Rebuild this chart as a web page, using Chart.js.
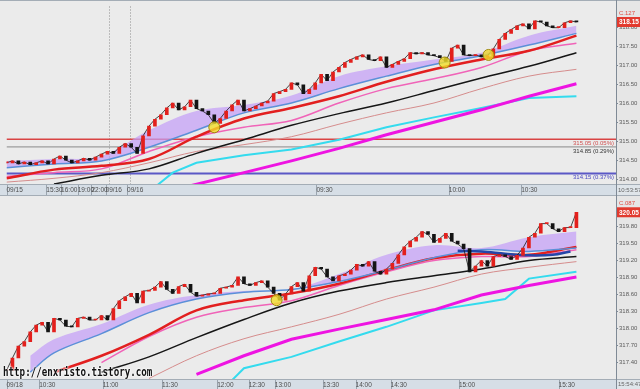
<!DOCTYPE html>
<html>
<head>
<meta charset="utf-8">
<script src="https://cdn.jsdelivr.net/npm/chart.js@4.4.1/dist/chart.umd.min.js"></script>
<style>
html, body { margin: 0; padding: 0; background: #ebebeb; }
#wrap { position: relative; width: 640px; height: 389px; overflow: hidden; }
canvas { display: block; }
#url { position: absolute; left: 3px; top: 364px; font: bold 9.2px "DejaVu Sans Mono", monospace; color: #111;
       transform: scaleY(1.3); transform-origin: 0 0;
       text-shadow: 0 0 2px #fff, 0 0 2px #fff, 0 0 1px #fff; }
</style>
</head>
<body>
<div id="wrap">
  <canvas id="top" width="640" height="195"></canvas>
  <canvas id="bot" width="640" height="194"></canvas>
  <div id="url">http://enxristo.tistory.com</div>
</div>
<script>
// one bar every 6 screen pixels, plot is 616px wide
const X_MAX = 616 / 6;

// ---------- top panel ----------
const topCloses = [
  314.43,314.48,314.40,314.45,314.38,314.43,314.48,314.40,314.53,314.61,
  314.50,314.43,314.48,314.55,314.50,314.58,314.66,314.73,314.68,314.84,
  314.94,314.84,314.68,315.14,315.40,315.58,315.70,315.88,316.01,315.83,
  315.91,316.09,315.86,315.80,315.70,315.47,315.60,315.80,315.96,316.09,
  315.80,315.86,315.93,316.01,316.06,316.26,316.31,316.37,316.54,316.49,
  316.26,316.37,316.54,316.77,316.60,316.83,316.95,317.08,317.16,317.23,
  317.28,317.16,317.13,317.23,316.95,317.03,317.11,317.18,317.34,317.31,
  317.34,317.28,317.26,317.21,317.11,317.46,317.54,317.28,317.26,317.28,
  317.23,317.26,317.44,317.69,317.85,317.95,318.05,318.10,317.97,318.18,
  318.15,318.05,318.00,318.00,318.13,318.18,318.15
];
const topStations   = [0,8,16,24,32,40,48,56,64,72,80,88,96];
const topBlue       = [314.30,314.40,314.48,314.84,315.29,315.75,316.01,316.39,316.72,317.03,317.26,317.54,317.85];
const topCloud      = [314.48,314.53,314.61,315.29,315.80,315.96,316.21,316.72,316.98,317.16,317.34,317.79,318.05];
const topRed        = [314.02,314.25,314.35,314.53,315.12,315.60,315.88,316.19,316.57,316.90,317.16,317.39,317.79];
const topPink       = [314.07,314.17,314.27,314.73,315.12,315.37,315.55,316.01,316.39,316.65,316.95,317.39,317.59];
const topRosy       = [313.92,314.02,314.17,314.43,314.73,314.91,315.12,315.45,315.75,316.01,316.39,316.72,316.90];
const topBlackX     = [8,16,24,32,40,48,56,64,72,80,88,96];
const topBlack      = [313.87,314.10,314.27,314.68,315.04,315.42,315.73,316.01,316.34,316.67,316.98,317.34];
const topCyanX      = [24,28,32,40,48,56,64,72,80,88,96];
const topCyan       = [313.66,314.17,314.43,314.63,314.78,315.04,315.37,315.63,315.88,316.14,316.19];
const topMagentaX   = [28,40,48,56,64,72,80,88,96];
const topMagenta    = [313.71,314.17,314.48,314.81,315.17,315.50,315.83,316.19,316.52];
const topLevels     = [315.05, 314.85, 314.15];
const topLevelTexts = ['315.05 (0.05%)', '314.85 (0.29%)', '314.15 (0.37%)'];
const topTouchX     = [35, 73.8, 81.2];
const topTouchY     = [315.37, 317.08, 317.28];
const topBreaks     = [17.2, 20.8];
const topYTicks     = [314.00,314.50,315.00,315.50,316.00,316.50,317.00,317.50,318.00];
const topTickPos    = [0, 6.7, 9.2, 12, 14.3, 16.7, 20.3, 52.2, 74.5, 86.7];
const topTickLabels = ['09/15','15:30','16:00','19:00','22:00','09/16','09/16','09:30','10:00','10:30'];

// ---------- bottom panel ----------
const botCloses = [
  317.26,317.48,317.69,317.77,317.94,318.06,318.11,317.94,318.18,318.15,
  318.04,318.03,318.18,318.20,318.15,318.15,318.23,318.15,318.35,318.49,
  318.56,318.62,318.45,318.66,318.67,318.73,318.83,318.69,318.62,318.74,
  318.78,318.64,318.57,318.59,318.61,318.62,318.71,318.73,318.76,318.91,
  318.79,318.76,318.81,318.84,318.73,318.62,318.50,318.61,318.74,318.81,
  318.66,318.93,319.08,319.05,318.91,318.84,318.93,318.96,319.03,319.13,
  319.10,319.18,319.01,318.96,319.05,319.15,319.30,319.44,319.54,319.61,
  319.71,319.66,319.52,319.59,319.68,319.54,319.49,319.41,319.00,319.10,
  319.20,319.10,319.27,319.30,319.27,319.22,319.29,319.42,319.61,319.68,
  319.85,319.85,319.76,319.71,319.78,319.78,320.05
];
const botStations   = [4,8,16,24,32,40,48,56,64,72,80,88,96];
const botBlue       = [317.23,317.57,317.91,318.28,318.52,318.64,318.69,318.83,319.03,319.25,319.39,319.36,319.42];
const botCloud      = [317.52,317.81,318.08,318.42,318.59,318.66,318.69,318.96,319.30,319.47,319.42,319.61,319.71];
const botRedX       = [8,16,24,32,40,48,56,64,72,80,88,96];
const botRed        = [317.23,317.52,317.89,318.32,318.50,318.62,318.79,319.03,319.24,319.32,319.30,319.44];
const botMidX       = [16,24,32,40,48,56,64,72,80,88,96];
const botPink       = [317.40,317.86,318.20,318.37,318.49,318.76,319.00,319.20,319.27,319.27,319.39];
const botBlack      = [317.23,317.50,317.84,318.16,318.45,318.66,318.81,318.93,319.05,319.20,319.27];
const botRosyX      = [24,32,40,48,56,64,72,80,88,96];
const botRosy       = [317.12,317.52,317.82,318.03,318.25,318.52,318.73,318.96,319.08,319.18];
const botMagentaX   = [32,40,48,56,64,72,80,88,96];
const botMagenta    = [317.19,317.52,317.81,317.99,318.16,318.33,318.59,318.76,318.91];
const botCyanX      = [38,40,48,56,64,72,80,84,88,96];
const botCyan       = [317.09,317.30,317.50,317.77,318.03,318.32,318.45,318.52,318.88,319.00];
const botNavyX      = [76,80,84,88,92,95];
const botNavy       = [319.37,319.36,319.32,319.29,319.30,319.36];
const botTouchX     = [45.5];
const botTouchY     = [318.50];
const botYTicks     = [317.40,317.70,318.00,318.30,318.60,318.90,319.20,319.50,319.80];
const botTickPos    = [0, 5.5, 16.2, 26.2, 35.5, 40.8, 45.2, 53.3, 58.8, 64.7, 76.2, 93];
const botTickLabels = ['09/18','10:30','11:00','11:30','12:00','12:30','13:00','13:30','14:00','14:30','15:00','15:30'];

const FONT = '"Liberation Sans", Arial, sans-serif';

function pts(xs, ys) { return xs.map((x, k) => ({ x: x, y: ys[k] })); }

function line(xs, ys, color, width, order, extra) {
  return Object.assign({
    type: 'line', data: pts(xs, ys), borderColor: color, borderWidth: width,
    pointRadius: 0, tension: 0.35, fill: false, order: order
  }, extra || {});
}

function buildPanel(canvasId, p) {
  const closes = p.closes;
  const candleColors = closes.map((c, i) => (i === 0 || c >= closes[i - 1]) ? '#e3201c' : '#141414');
  const datasets = [
    line(p.stations, p.blue, '#5b90d8', 1.5, 3),
    line(p.stations, p.cloud, 'rgba(0,0,0,0)', 0, 9, { fill: '-1', backgroundColor: 'rgba(196,158,247,0.72)' }),
    line(p.rosyX, p.rosy, '#d58c8c', 1, 8),
    line(p.cyanX, p.cyan, '#34dbee', 2, 7, { tension: 0 }),
    line(p.magentaX, p.magenta, '#ee14e2', 3, 6, { tension: 0 }),
    line(p.blackX, p.black, '#161616', 1.5, 5),
    line(p.pinkX, p.pink, '#f064b8', 1.5, 4.5),
    line(p.redX, p.red, '#e21f1f', 2.5, 4)
  ];
  if (p.navy) datasets.push(line(p.navyX, p.navy, '#2446a8', 2.5, 2.5));
  (p.levels || []).forEach((v, k) => {
    datasets.push(line([0, X_MAX], [v, v], p.levelColors[k], p.levelWidths[k], 10, { tension: 0 }));
  });
  datasets.push({
    type: 'line', data: closes.map((c, i) => ({ x: i, y: c })), borderColor: 'rgba(25,25,25,0.8)',
    borderWidth: 1, pointRadius: 0, tension: 0, order: 1.5
  });
  datasets.push({
    type: 'bar', data: closes.map((c, i) => ({ x: i, y: [i ? closes[i - 1] : c, c] })),
    backgroundColor: candleColors, barThickness: 3, minBarLength: 1, order: 1
  });
  datasets.push({
    type: 'scatter', data: pts(p.touchX, p.touchY), pointRadius: 5.5,
    backgroundColor: 'rgba(242,222,40,0.8)', borderColor: '#a08a10', borderWidth: 1, order: 0
  });

  const deco = {
    id: 'deco' + canvasId,
    beforeDraw(chart) {
      const c = chart.ctx, a = chart.chartArea, W = chart.width, H = chart.height;
      c.save();
      c.fillStyle = '#ebebeb'; c.fillRect(0, 0, W, H);
      c.fillStyle = '#d6dee6'; c.fillRect(0, a.bottom, a.right, H - a.bottom);
      c.fillStyle = '#e6e6e6'; c.fillRect(a.right, 0, W - a.right, H);
      c.fillStyle = '#dfe5ea'; c.fillRect(a.right, a.bottom, W - a.right, H - a.bottom);
      c.strokeStyle = '#a4adb6'; c.lineWidth = 1;
      c.beginPath(); c.moveTo(0, a.bottom + 0.5); c.lineTo(W, a.bottom + 0.5); c.stroke();
      c.beginPath(); c.moveTo(0, 0.5); c.lineTo(W, 0.5); c.stroke();
      // separators in the time strip
      const xs = chart.scales.x;
      c.strokeStyle = '#9aa4ae';
      p.tickPos.forEach(v => {
        const px = Math.round(xs.getPixelForValue(v)) + 0.5;
        c.beginPath(); c.moveTo(px, a.bottom + 1); c.lineTo(px, H); c.stroke();
      });
      // session breaks
      c.setLineDash([1, 2]); c.strokeStyle = '#8c8c8c';
      (p.breaks || []).forEach(v => {
        const px = Math.round(xs.getPixelForValue(v)) + 0.5;
        c.beginPath(); c.moveTo(px, a.top); c.lineTo(px, a.bottom); c.stroke();
      });
      c.restore();
    },
    afterDatasetsDraw(chart) {
      const c = chart.ctx, a = chart.chartArea, ys = chart.scales.y;
      c.save();
      c.font = '6px ' + FONT; c.textAlign = 'right'; c.textBaseline = 'middle';
      (p.levels || []).forEach((v, k) => {
        c.fillStyle = p.levelTextColors[k];
        c.fillText(p.levelTexts[k], a.right - 2, ys.getPixelForValue(v) + 4);
      });
      c.restore();
    },
    afterDraw(chart) {
      const c = chart.ctx, a = chart.chartArea, ys = chart.scales.y, W = chart.width, H = chart.height;
      const last = closes[closes.length - 1];
      const py = ys.getPixelForValue(last);
      c.save();
      c.strokeStyle = '#7f8a96'; c.lineWidth = 1;
      c.beginPath(); c.moveTo(a.right + 0.5, 0); c.lineTo(a.right + 0.5, H); c.stroke();
      c.fillStyle = '#e23a2e'; c.fillRect(a.right + 1, py - 5, W - a.right - 1, 10);
      c.fillStyle = '#ffffff'; c.font = 'bold 6.5px ' + FONT; c.textAlign = 'left'; c.textBaseline = 'middle';
      c.fillText(last.toFixed(2), a.right + 3, py + 0.5);
      c.fillStyle = '#e04a40'; c.font = '6px ' + FONT;
      c.fillText(p.corner, a.right + 3, py - 9);
      c.fillStyle = '#666'; c.font = '6px ' + FONT;
      c.fillText(p.clock, a.right + 2, (a.bottom + H) / 2 + 0.5);
      c.restore();
    }
  };

  return new Chart(document.getElementById(canvasId), {
    data: { datasets: datasets },
    options: {
      responsive: false, animation: false, devicePixelRatio: 1,
      layout: { padding: 0 },
      plugins: { legend: { display: false }, tooltip: { enabled: false } },
      scales: {
        x: {
          type: 'linear', min: 0, max: X_MAX, offset: false,
          grid: { display: false, drawTicks: false, tickLength: 0 }, border: { display: false },
          afterBuildTicks: s => { s.ticks = p.tickPos.map(v => ({ value: v })); },
          afterFit: s => { s.height = p.stripH; s.paddingLeft = 0; s.paddingRight = 0; },
          ticks: {
            autoSkip: false, maxRotation: 0, align: 'start', padding: 2,
            color: '#4e4e4e', font: { size: 6.5, family: FONT },
            callback: (v, i) => p.tickLabels[i]
          }
        },
        y: {
          type: 'linear', position: 'right', min: p.yMin, max: p.yMax,
          grid: { drawOnChartArea: false, tickLength: 2, color: '#7f8a96' },
          border: { display: false },
          afterBuildTicks: s => { s.ticks = p.yTicks.map(v => ({ value: v })); },
          afterFit: s => { s.width = 24; s.paddingTop = 0; s.paddingBottom = 0; },
          ticks: {
            padding: 1, color: '#5a5a5a', font: { size: 6, family: FONT },
            callback: v => v.toFixed(2)
          }
        }
      }
    },
    plugins: [deco]
  });
}

buildPanel('top', {
  closes: topCloses, yMin: 313.87, yMax: 318.56, yTicks: topYTicks,
  tickPos: topTickPos, tickLabels: topTickLabels, stripH: 11,
  stations: topStations, blue: topBlue, cloud: topCloud,
  redX: topStations, red: topRed, pinkX: topStations, pink: topPink,
  rosyX: topStations, rosy: topRosy, blackX: topBlackX, black: topBlack,
  cyanX: topCyanX, cyan: topCyan, magentaX: topMagentaX, magenta: topMagenta,
  levels: topLevels, levelTexts: topLevelTexts,
  levelColors: ['#d94444', '#8a8a8a', '#5b58c6'], levelWidths: [1.5, 1, 2],
  levelTextColors: ['#d05050', '#333333', '#4a48c0'],
  touchX: topTouchX, touchY: topTouchY, breaks: topBreaks,
  corner: 'C.127', clock: '10:53:57'
});

buildPanel('bot', {
  closes: botCloses, yMin: 317.11, yMax: 320.24, yTicks: botYTicks,
  tickPos: botTickPos, tickLabels: botTickLabels, stripH: 10,
  stations: botStations, blue: botBlue, cloud: botCloud,
  redX: botRedX, red: botRed, pinkX: botMidX, pink: botPink,
  rosyX: botRosyX, rosy: botRosy, blackX: botMidX, black: botBlack,
  cyanX: botCyanX, cyan: botCyan, magentaX: botMagentaX, magenta: botMagenta,
  navyX: botNavyX, navy: botNavy,
  touchX: botTouchX, touchY: botTouchY,
  corner: 'C.087', clock: '15:54:47'
});
</script>
</body>
</html>
